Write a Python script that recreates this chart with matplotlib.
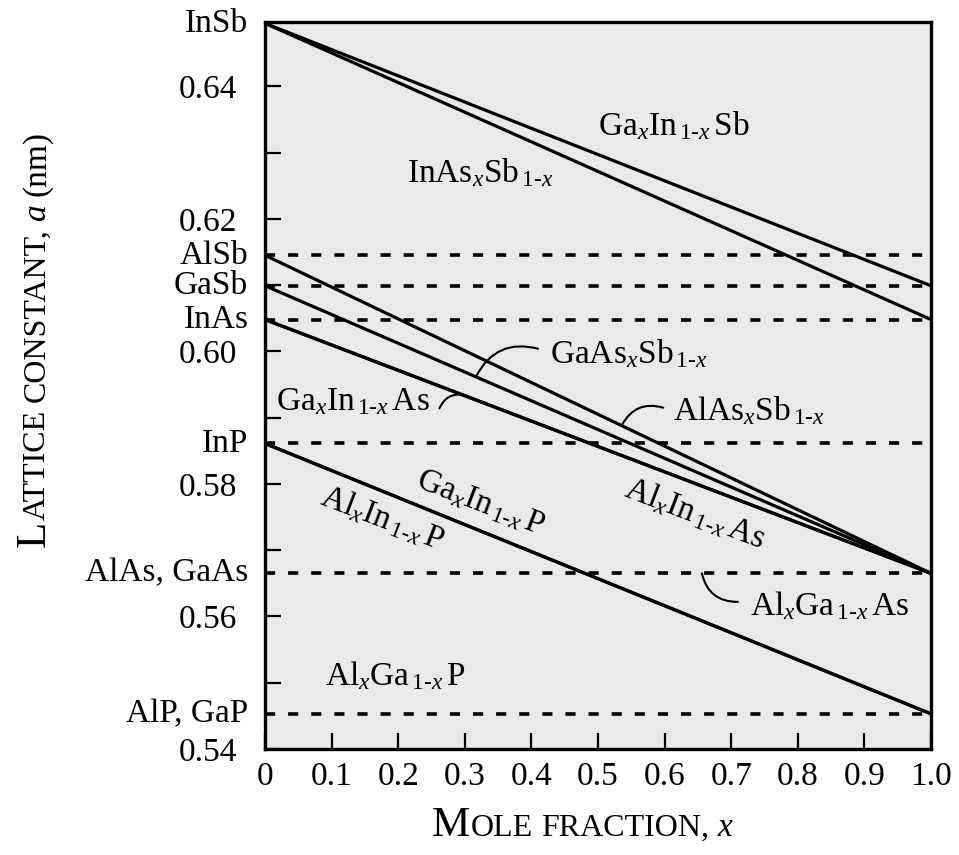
import matplotlib
matplotlib.use("Agg")
import matplotlib.pyplot as plt
from matplotlib.ticker import MultipleLocator, FixedLocator, FixedFormatter
from matplotlib.transforms import blended_transform_factory

plt.rcParams['font.family'] = ['Liberation Serif', 'DejaVu Serif']
plt.rcParams['mathtext.fontset'] = 'custom'
plt.rcParams['mathtext.rm'] = 'Liberation Serif'
plt.rcParams['mathtext.it'] = 'Liberation Serif:italic'

# binary compounds, lattice constant (nm)
compounds = ['InSb', 'AlSb', 'GaSb', 'InAs', 'InP', 'AlAs', 'GaAs', 'AlP', 'GaP']
lattice = [0.6495, 0.6145, 0.6099, 0.6048, 0.5861, 0.5665, 0.5665, 0.5453, 0.5453]

# axis labels for the compound levels
level_labels = ['InSb', 'AlSb', 'GaSb', 'InAs', 'InP', 'AlAs, GaAs', 'AlP, GaP']
level_values = [0.6495, 0.6145, 0.6099, 0.6048, 0.5861, 0.5665, 0.5453]

# dashed reference levels
dashed_levels = [0.6145, 0.6099, 0.6048, 0.5861, 0.5665, 0.5453]

# ternary alloys: compound at x=0 -> compound at x=1
alloy_start = ['InSb', 'InSb', 'GaSb', 'AlSb', 'InAs', 'InAs', 'InP', 'InP']
alloy_end = ['GaSb', 'InAs', 'GaAs', 'AlAs', 'GaAs', 'AlAs', 'GaP', 'AlP']

x_ticks = [0, 0.1, 0.2, 0.3, 0.4, 0.5, 0.6, 0.7, 0.8, 0.9, 1.0]
x_ticklabels = ['0', '0.1', '0.2', '0.3', '0.4', '0.5', '0.6', '0.7', '0.8', '0.9', '1.0']

lat = dict(zip(compounds, lattice))

fig = plt.figure(figsize=(9.59, 8.55), dpi=100)
ax = fig.add_axes([265 / 959, 1 - 749 / 855, 666 / 959, 727 / 855])
ax.set_facecolor('#e9e9e9')
ax.set_xlim(0, 1)
ax.set_ylim(0.54, 0.6497)

for lv in dashed_levels:
    ax.plot([0, 1], [lv, lv], color='black', lw=2.6, dashes=(2.8, 3.6), solid_capstyle='butt')

for a, b in zip(alloy_start, alloy_end):
    ax.plot([0, 1], [lat[a], lat[b]], color='black', lw=2.3)

for s in ax.spines.values():
    s.set_linewidth(2.4)

ax.xaxis.set_major_locator(FixedLocator(x_ticks))
ax.xaxis.set_major_formatter(FixedFormatter(x_ticklabels))
ax.yaxis.set_major_locator(MultipleLocator(0.02))
ax.yaxis.set_minor_locator(MultipleLocator(0.01))
ax.yaxis.set_major_formatter(plt.FormatStrFormatter('%.2f'))
ax.tick_params(axis='both', which='both', direction='in', length=11.5, width=1.6,
               labelsize=24, top=False, right=False)
ax.tick_params(axis='x', pad=9)
ax.tick_params(axis='y', pad=20)

tr = blended_transform_factory(ax.transAxes, ax.transData)
for name, v in zip(level_labels, level_values):
    ax.text(-0.025, v, name, transform=tr, ha='right', va='center', fontsize=24)


def formula(a, b, c, swap=False):
    if swap:
        return r'$\mathrm{%s}_{x}\mathrm{%s}_{\,\mathit{1}\text{-}x}$' % (a, b)
    return r'$\mathrm{%s}_{x}\mathrm{%s}_{\,\mathit{1}\text{-}x}\,\mathrm{%s}$' % (a, b, c)


fs = 24
ax.text(0.500, 0.6326, formula('Ga', 'In', 'Sb'), fontsize=fs, va='baseline')
ax.text(0.213, 0.6255, formula('InAs', 'Sb', '', swap=True), fontsize=fs, va='baseline')
ax.text(0.428, 0.5982, formula('GaAs', 'Sb', '', swap=True), fontsize=fs, va='baseline')
ax.text(0.0165, 0.5911, formula('Ga', 'In', 'As'), fontsize=fs, va='baseline')
ax.text(0.613, 0.5896, formula('AlAs', 'Sb', '', swap=True), fontsize=fs, va='baseline')
ax.text(0.323, 0.5771, formula('Ga', 'In', 'P'), fontsize=fs, rotation=-21,
        ha='center', va='center', rotation_mode='anchor')
ax.text(0.176, 0.5748, formula('Al', 'In', 'P'), fontsize=fs, rotation=-21,
        ha='center', va='center', rotation_mode='anchor')
ax.text(0.646, 0.5756, formula('Al', 'In', 'As'), fontsize=fs, rotation=-21,
        ha='center', va='center', rotation_mode='anchor')
ax.text(0.728, 0.5602, formula('Al', 'Ga', 'As'), fontsize=fs, va='baseline')
ax.text(0.090, 0.5497, formula('Al', 'Ga', 'P'), fontsize=fs, va='baseline')

leader = dict(arrowstyle='-', lw=1.5, color='black', shrinkA=0, shrinkB=0)
ax.annotate('', xy=(0.317, 0.5962), xytext=(0.41, 0.6004),
            arrowprops=dict(leader, connectionstyle='arc3,rad=0.4'))
ax.annotate('', xy=(0.30, 0.5934), xytext=(0.262, 0.5914),
            arrowprops=dict(leader, connectionstyle='arc3,rad=-0.4'))
ax.annotate('', xy=(0.536, 0.5889), xytext=(0.598, 0.5915),
            arrowprops=dict(leader, connectionstyle='arc3,rad=0.4'))
ax.annotate('', xy=(0.656, 0.5665), xytext=(0.71, 0.5622),
            arrowprops=dict(leader, connectionstyle='arc3,rad=-0.4'))


def caps_label(parts, x0, y0, vertical):
    r = fig.canvas.get_renderer()
    x, y = x0, y0
    for s, size, style, gap in parts:
        t = fig.text(x, y, s, fontsize=size, style=style, rotation=90 if vertical else 0,
                     rotation_mode='anchor', ha='left', va='baseline')
        bb = t.get_window_extent(r)
        if vertical:
            y += (bb.height + gap) / fig.bbox.height
        else:
            x += (bb.width + gap) / fig.bbox.width


caps_label([('L', 31, 'normal', 1), ('ATTICE', 23, 'normal', 8),
            ('CONSTANT,', 23, 'normal', 8), ('a', 24, 'italic', 7),
            ('(nm)', 24, 'normal', 0)], 45 / 959, 1 - 547 / 855, True)
caps_label([('M', 31, 'normal', 1), ('OLE', 23, 'normal', 8),
            ('FRACTION,', 23, 'normal', 8), ('x', 24, 'italic', 0)],
           432 / 959, 1 - 836 / 855, False)

fig.savefig('out.png', dpi=100)
